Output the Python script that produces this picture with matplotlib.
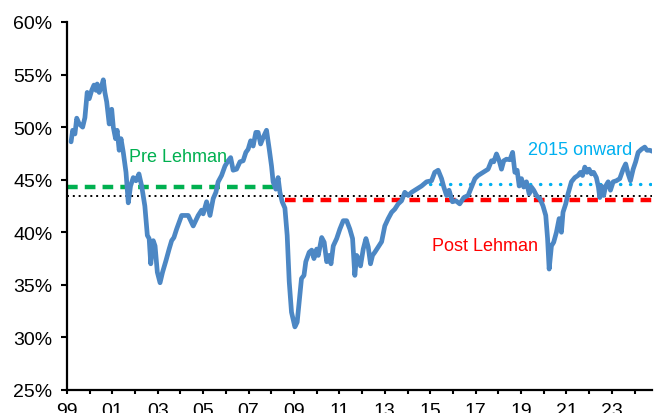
import matplotlib
matplotlib.use("Agg")
import matplotlib.pyplot as plt
from matplotlib.ticker import FixedLocator, FuncFormatter

plt.rcParams['font.family'] = ['Liberation Sans Narrow', 'Liberation Sans', 'DejaVu Sans']

years = [1999.18, 1999.25, 1999.35, 1999.43, 1999.54, 1999.69, 1999.79, 1999.89, 1999.98,
         2000.09, 2000.19, 2000.28, 2000.33, 2000.42, 2000.53, 2000.60, 2000.67, 2000.75, 2000.86, 2000.97,
         2001.04, 2001.14, 2001.21, 2001.30, 2001.38, 2001.48, 2001.60, 2001.70, 2001.80, 2001.92,
         2002.04, 2002.17, 2002.29, 2002.43, 2002.54, 2002.62, 2002.69, 2002.80, 2002.88, 2002.98,
         2003.10, 2003.21, 2003.36, 2003.50, 2003.61, 2003.71, 2003.83,
         2004.05, 2004.34, 2004.56, 2004.78, 2004.93,
         2005.00, 2005.15, 2005.30, 2005.44, 2005.56, 2005.66, 2005.81, 2005.96,
         2006.10, 2006.21, 2006.32, 2006.47, 2006.62, 2006.76, 2006.88, 2006.98,
         2007.09, 2007.20, 2007.32, 2007.42, 2007.53, 2007.64, 2007.79, 2007.91,
         2008.01, 2008.08, 2008.20, 2008.30, 2008.38, 2008.48, 2008.60, 2008.70, 2008.79, 2008.89,
         2009.04, 2009.14, 2009.23, 2009.33, 2009.44, 2009.52, 2009.67, 2009.78, 2009.88,
         2010.00, 2010.07, 2010.22, 2010.33, 2010.44, 2010.55, 2010.63, 2010.73, 2010.88,
         2011.02, 2011.17, 2011.32, 2011.46, 2011.58, 2011.68, 2011.76, 2011.84, 2011.93,
         2012.05, 2012.17, 2012.27, 2012.37, 2012.46, 2012.56, 2012.71, 2012.86,
         2013.00, 2013.15, 2013.30, 2013.44, 2013.59, 2013.74, 2013.88,
         2014.03, 2014.18, 2014.40, 2014.62, 2014.84,
         2015.06, 2015.20, 2015.35, 2015.50, 2015.60, 2015.72, 2015.83, 2015.98,
         2016.13, 2016.30, 2016.48, 2016.67, 2016.82, 2016.97,
         2017.11, 2017.33, 2017.55, 2017.70, 2017.80, 2017.92,
         2018.04, 2018.14, 2018.24, 2018.36, 2018.51, 2018.63, 2018.73, 2018.83, 2018.92,
         2019.02, 2019.12, 2019.24, 2019.36, 2019.46, 2019.56, 2019.68, 2019.83, 2019.97,
         2020.09, 2020.17, 2020.24, 2020.34, 2020.44, 2020.56, 2020.68, 2020.78, 2020.85, 2020.97,
         2021.07, 2021.22, 2021.37, 2021.51, 2021.62, 2021.71, 2021.81, 2021.91,
         2022.00, 2022.10, 2022.20, 2022.32, 2022.41, 2022.47, 2022.54, 2022.64, 2022.73, 2022.84, 2022.94,
         2023.06, 2023.20, 2023.35, 2023.50, 2023.61, 2023.72, 2023.82, 2023.94,
         2024.05, 2024.16, 2024.31, 2024.45, 2024.55, 2024.67, 2024.79]

share = [48.6, 49.7, 49.35, 50.85, 50.3, 50.0, 50.9, 53.3, 52.7,
         53.5, 54.0, 53.5, 54.1, 53.3, 53.95, 54.5, 53.3, 52.4, 50.3, 51.7,
         50.0, 48.9, 49.7, 47.8, 48.9, 47.6, 45.7, 42.8, 44.4, 45.2,
         44.9, 45.55, 44.4, 42.5, 39.7, 39.4, 37.0, 39.2, 38.7, 36.2,
         35.2, 36.2, 37.3, 38.4, 39.2, 39.5, 40.3,
         41.6, 41.6, 40.6, 41.6, 42.1,
         41.75, 42.9, 41.6, 43.2, 43.8, 44.8, 45.4, 46.3,
         46.8, 47.1, 45.9, 46.0, 46.7, 46.8, 47.6, 47.9,
         48.7, 48.2, 49.5, 49.5, 48.4, 49.0, 49.7, 47.9,
         46.3, 44.8, 44.1, 45.2, 43.8, 42.9, 42.3, 39.7, 35.3, 32.4,
         31.0, 31.45, 33.4, 35.6, 35.9, 37.2, 38.1, 38.3, 37.5,
         38.4, 37.8, 39.5, 39.05, 37.2, 37.8, 37.0, 38.7, 39.4,
         40.3, 41.1, 41.1, 40.3, 39.4, 35.9, 37.8, 37.5, 36.8,
         38.4, 39.4, 38.6, 37.0, 37.8, 38.1, 38.6, 39.1,
         40.6, 41.3, 41.9, 42.2, 42.7, 43.0, 43.8,
         43.5, 43.8, 44.1, 44.4, 44.8,
         44.9, 45.7, 45.9, 45.1, 44.3, 43.5, 44.0, 42.9,
         43.0, 42.7, 43.3, 43.5, 44.3, 45.1,
         45.4, 45.7, 46.0, 46.8, 46.7, 47.45,
         46.8, 46.0, 46.8, 46.95, 46.9, 47.6, 45.7, 45.9, 44.4,
         45.1, 44.3, 44.8, 43.65, 44.3, 44.0, 43.5, 43.2, 42.5,
         41.6, 39.4, 36.5, 38.7, 39.05, 40.0, 41.3, 40.0, 41.9, 42.7,
         43.65, 44.8, 45.2, 45.4, 45.7, 45.4, 46.2, 45.7,
         46.0, 45.55, 45.7, 45.2, 44.3, 43.3, 44.4, 43.5, 44.4, 44.8, 44.0,
         44.8, 44.9, 45.1, 46.0, 46.5, 45.55, 44.9, 46.0,
         46.7, 47.6, 47.9, 48.1, 47.8, 47.8, 47.7]

# period averages
avg_labels = ["Pre Lehman", "Post Lehman", "2015 onward", "Full"]
avg_values = [44.3, 43.05, 44.6, 43.45]
avg_start = [1999.0, 2008.6, 2015.0, 1999.0]
avg_end = [2008.25, 2024.77, 2024.77, 2024.77]

tick_years = list(range(1999, 2024, 2))
tick_labels = ["99", "01", "03", "05", "07", "09", "11", "13", "15", "17", "19", "21", "23"]
y_ticks = [25, 30, 35, 40, 45, 50, 55, 60]

fig = plt.figure(figsize=(6.56, 4.14), dpi=100)
ax = fig.add_axes([0.1021, 0.0556, 0.8918, 0.8889])

# period average lines
ax.plot([avg_start[3], avg_end[3]], [avg_values[3]] * 2, color="black", lw=1.4,
        linestyle=(0, (1, 2.0)), zorder=2)
ax.plot([avg_start[0], avg_end[0]], [avg_values[0]] * 2, color="#00B050", lw=3.2,
        linestyle=(0, (2.4, 1.6)), zorder=2)
ax.plot([avg_start[1], avg_end[1]], [avg_values[1]] * 2, color="#FF0000", lw=3.2,
        linestyle=(0, (2.4, 1.6)), zorder=2)
ax.plot([avg_start[2], avg_end[2]], [avg_values[2]] * 2, color="#00B0F0", lw=2.4,
        linestyle=(0, (0.1, 2.9)), dash_capstyle="round", zorder=2)

ax.plot(years, share, color="#4C87C4", lw=3.4, solid_joinstyle="round",
        solid_capstyle="round", zorder=3)

ax.text(avg_start[0] + 2.73, 47.25, avg_labels[0], color="#00B050", fontsize=13,
        va="center", ha="left")
ax.text(2019.32, 47.9, avg_labels[2], color="#00B0F0", fontsize=13, va="center", ha="left")
ax.text(2015.1, 38.7, avg_labels[1], color="#FF0000", fontsize=13, va="center", ha="left")

ax.set_xlim(1999, 2024.77)
ax.set_ylim(25, 60)
ax.xaxis.set_major_locator(FixedLocator(tick_years))
ax.set_xticklabels(tick_labels)
ax.xaxis.set_minor_locator(FixedLocator(list(range(2000, 2025, 2))))
ax.yaxis.set_major_locator(FixedLocator(y_ticks))
ax.yaxis.set_major_formatter(FuncFormatter(lambda v, p: f"{v:.0f}%"))

for s in ["top", "right"]:
    ax.spines[s].set_visible(False)
for s in ["left", "bottom"]:
    ax.spines[s].set_linewidth(1.6)
    ax.spines[s].set_color("black")

ax.tick_params(axis="y", which="major", direction="out", length=4.5, width=1.5,
               pad=6, labelsize=14, colors="black")
ax.tick_params(axis="x", which="both", direction="out", length=3, width=1.5,
               pad=6, labelsize=14, colors="black")

fig.savefig("out.png", dpi=100)
